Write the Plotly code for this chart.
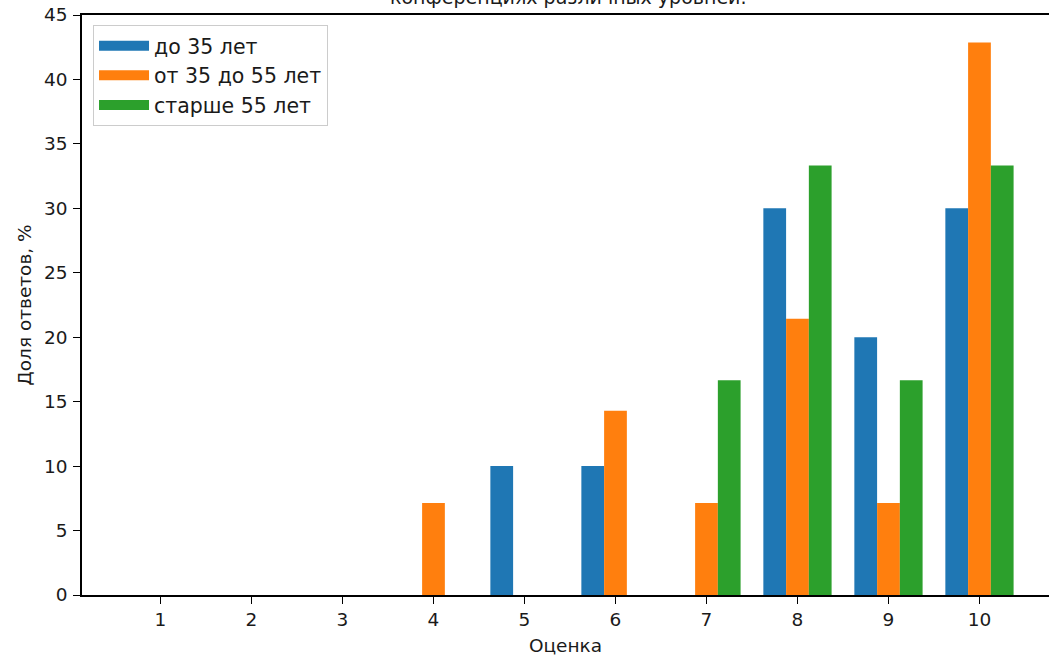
import plotly.graph_objects as go

scores = [1, 2, 3, 4, 5, 6, 7, 8, 9, 10]
under_35 = [0, 0, 0, 0, 10, 10, 0, 30, 20, 30]
from_35_to_55 = [0, 0, 0, 7.14, 0, 14.29, 7.14, 21.43, 7.14, 42.86]
over_55 = [0, 0, 0, 0, 0, 0, 16.67, 33.33, 16.67, 33.33]
series_names = ["до 35 лет", "от 35 до 55 лет", "старше 55 лет"]
colors = ["#1f77b4", "#ff7f0e", "#2ca02c"]
title_text = "конференциях различных уровней."
x_title = "Оценка"
y_title = "Доля ответов, %"

FONT = "DejaVu Sans"
fig = go.Figure()
for i, (name, vals, col) in enumerate(zip(series_names, [under_35, from_35_to_55, over_55], colors)):
    fig.add_trace(go.Bar(x=scores, y=vals, name=name, legendgroup=f"g{i}", showlegend=False,
                         marker=dict(color=col, line=dict(width=0))))
# legend entries drawn as wide patches (like matplotlib)
for i, (name, col) in enumerate(zip(series_names, colors)):
    fig.add_trace(go.Scatter(x=[None], y=[None], mode="lines", name=name, legendgroup=f"g{i}",
                             line=dict(color=col, width=15)))

fig.update_layout(
    width=1049, height=658,
    margin=dict(l=82, r=0, t=15, b=63),
    paper_bgcolor="white", plot_bgcolor="white",
    barmode="group", bargap=0.25, bargroupgap=0,
    font=dict(family=FONT, size=18, color="#1a1a1a"),
    showlegend=True,
    legend=dict(x=0.0114, y=0.983, xanchor="left", yanchor="top",
                bgcolor="rgba(255,255,255,0.9)", bordercolor="#cccccc", borderwidth=1,
                font=dict(family=FONT, size=20.5, color="#1a1a1a"),
                itemwidth=50, tracegroupgap=0),
)
fig.update_xaxes(
    range=[0.1375, 10.764], tickmode="array", tickvals=scores, ticktext=[str(s) for s in scores],
    showline=True, linecolor="black", linewidth=1.5, mirror=True,
    ticks="outside", ticklen=7, tickcolor="black", tickwidth=1.2,
    showgrid=False, zeroline=False, automargin=False,
    tickfont=dict(family=FONT, size=18.5),
    title=dict(text=x_title, font=dict(family=FONT, size=18.5), standoff=10),
)
fig.update_yaxes(
    range=[0, 45], tickmode="linear", tick0=0, dtick=5,
    showline=True, linecolor="black", linewidth=1.5, mirror=False,
    ticks="outside", ticklen=7, tickcolor="black", tickwidth=1.2,
    showgrid=False, zeroline=False, ticklabelstandoff=2, automargin=False,
    tickfont=dict(family=FONT, size=18.5),
    title=dict(text=y_title, font=dict(family=FONT, size=18.5), standoff=8),
)
fig.add_annotation(text=title_text, xref="paper", yref="paper", x=0.503, y=1.0,
                   yshift=5, xanchor="center", yanchor="bottom", showarrow=False,
                   font=dict(family=FONT, size=19, color="#1a1a1a"))
fig.write_html("out.html", config={"displayModeBar": False},
               post_script="document.body.style.margin='0';document.body.style.overflow='hidden';")
